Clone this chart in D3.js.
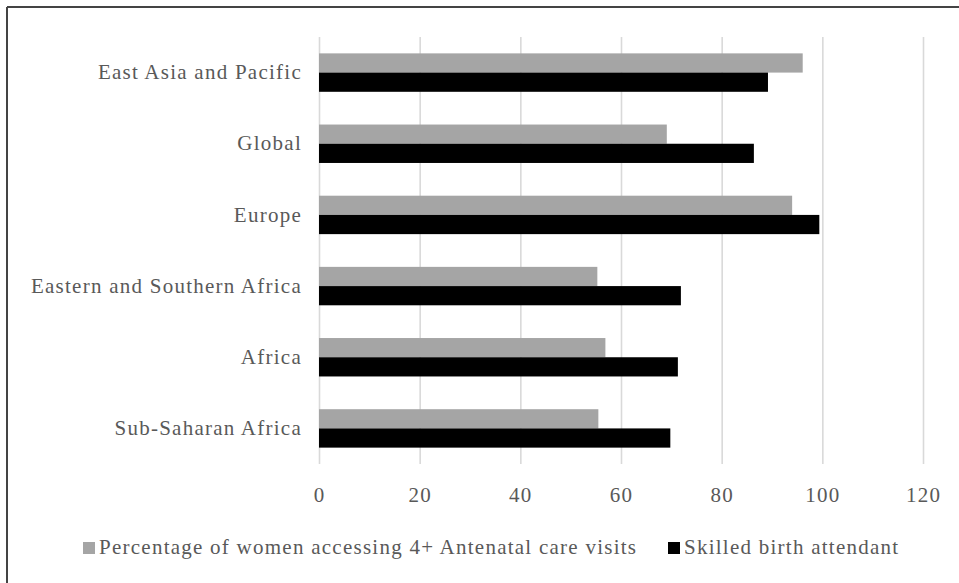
<!DOCTYPE html>
<html>
<head>
<meta charset="utf-8">
<script src="https://cdn.jsdelivr.net/npm/d3@7"></script>
<style>
  html, body { margin: 0; padding: 0; background: #fff; }
  svg { display: block; }
  svg text {
    font-family: "Liberation Serif", Tinos, "Times New Roman", "DejaVu Serif", serif !important;
    fill: #595959;
  }
</style>
</head>
<body>
<svg id="chart" width="959" height="583"></svg>
<script>
// Regions, listed top to bottom
const categories = [
  "East Asia and Pacific",
  "Global",
  "Europe",
  "Eastern and Southern Africa",
  "Africa",
  "Sub-Saharan Africa"
];
// Percentage of women accessing 4+ antenatal care visits
const antenatalValues = [96.1, 69.1, 94.0, 55.3, 56.9, 55.5];
// Skilled birth attendant coverage
const skilledValues = [89.2, 86.4, 99.4, 71.9, 71.3, 69.8];
const seriesNames = [
  "Percentage of women accessing 4+ Antenatal care visits",
  "Skilled birth attendant"
];
const seriesColors = ["#a5a5a5", "#000000"];
const xTicks = [0, 20, 40, 60, 80, 100, 120];

const FONT = "'Liberation Serif', Tinos, 'Times New Roman', 'DejaVu Serif', serif";

const svg = d3.select("#chart");
const W = 959, H = 583;
const margin = { top: 37, right: 36, bottom: 119, left: 319 };
const plotW = W - margin.left - margin.right;
const plotH = H - margin.top - margin.bottom;

// Frame along the top and left edges
svg.append("line").attr("x1", 7).attr("x2", W).attr("y1", 7).attr("y2", 7)
  .attr("stroke", "#444").attr("stroke-width", 2);
svg.append("line").attr("x1", 7).attr("x2", 7).attr("y1", 7).attr("y2", H)
  .attr("stroke", "#444").attr("stroke-width", 2);

const g = svg.append("g").attr("transform", `translate(${margin.left},${margin.top})`);

const x = d3.scaleLinear().domain([0, 120]).range([0, plotW]);
const y = d3.scaleBand().domain(categories).range([0, plotH])
  .paddingInner(0.46).paddingOuter(0.23);
const ySub = d3.scaleBand().domain([0, 1]).range([0, y.bandwidth()]);

// Vertical gridlines
const grid = g.append("g")
  .call(d3.axisBottom(x).tickValues(xTicks).tickSize(plotH).tickFormat(""));
grid.select(".domain").remove();
grid.selectAll(".tick line").attr("stroke", "#d9d9d9").attr("stroke-width", 1.6);

// Bars
const rows = categories.map((c, i) => ({ cat: c, vals: [antenatalValues[i], skilledValues[i]] }));
const groups = g.selectAll(".row").data(rows).join("g")
  .attr("class", "row")
  .attr("transform", d => `translate(0,${y(d.cat)})`);
groups.selectAll("rect")
  .data(d => d.vals.map((v, k) => ({ v, k })))
  .join("rect")
  .attr("x", x(0))
  .attr("y", d => ySub(d.k))
  .attr("width", d => x(d.v) - x(0))
  .attr("height", ySub.bandwidth())
  .attr("fill", d => seriesColors[d.k]);

// Category labels
const yAxis = g.append("g")
  .call(d3.axisLeft(y).tickSize(0).tickPadding(17));
yAxis.attr("font-family", null).attr("font-size", null);
yAxis.select(".domain").remove();
yAxis.selectAll("text")
  .style("font-family", FONT)
  .style("font-size", "21px")
  .style("letter-spacing", "1.25px")
  .style("fill", "#595959")
  .attr("dy", "0.32em");

// Value axis labels
const xAxis = g.append("g")
  .attr("transform", `translate(0,${plotH})`)
  .call(d3.axisBottom(x).tickValues(xTicks).tickSize(0).tickPadding(23));
xAxis.attr("font-family", null).attr("font-size", null);
xAxis.select(".domain").remove();
xAxis.selectAll("text")
  .style("font-family", FONT)
  .style("font-size", "21px")
  .style("letter-spacing", "1.25px")
  .style("fill", "#595959");

// Legend
const legendItems = [
  { name: seriesNames[0], color: seriesColors[0], x: 83 },
  { name: seriesNames[1], color: seriesColors[1], x: 668 }
];
const legend = svg.append("g").attr("transform", "translate(0,542)");
legendItems.forEach(item => {
  legend.append("rect")
    .attr("x", item.x).attr("y", 0)
    .attr("width", 12).attr("height", 12)
    .attr("fill", item.color);
  legend.append("text")
    .attr("x", item.x + 16).attr("y", 12)
    .style("font-family", FONT)
    .style("font-size", "21px")
    .style("letter-spacing", "1.25px")
    .text(item.name);
});
</script>
</body>
</html>
